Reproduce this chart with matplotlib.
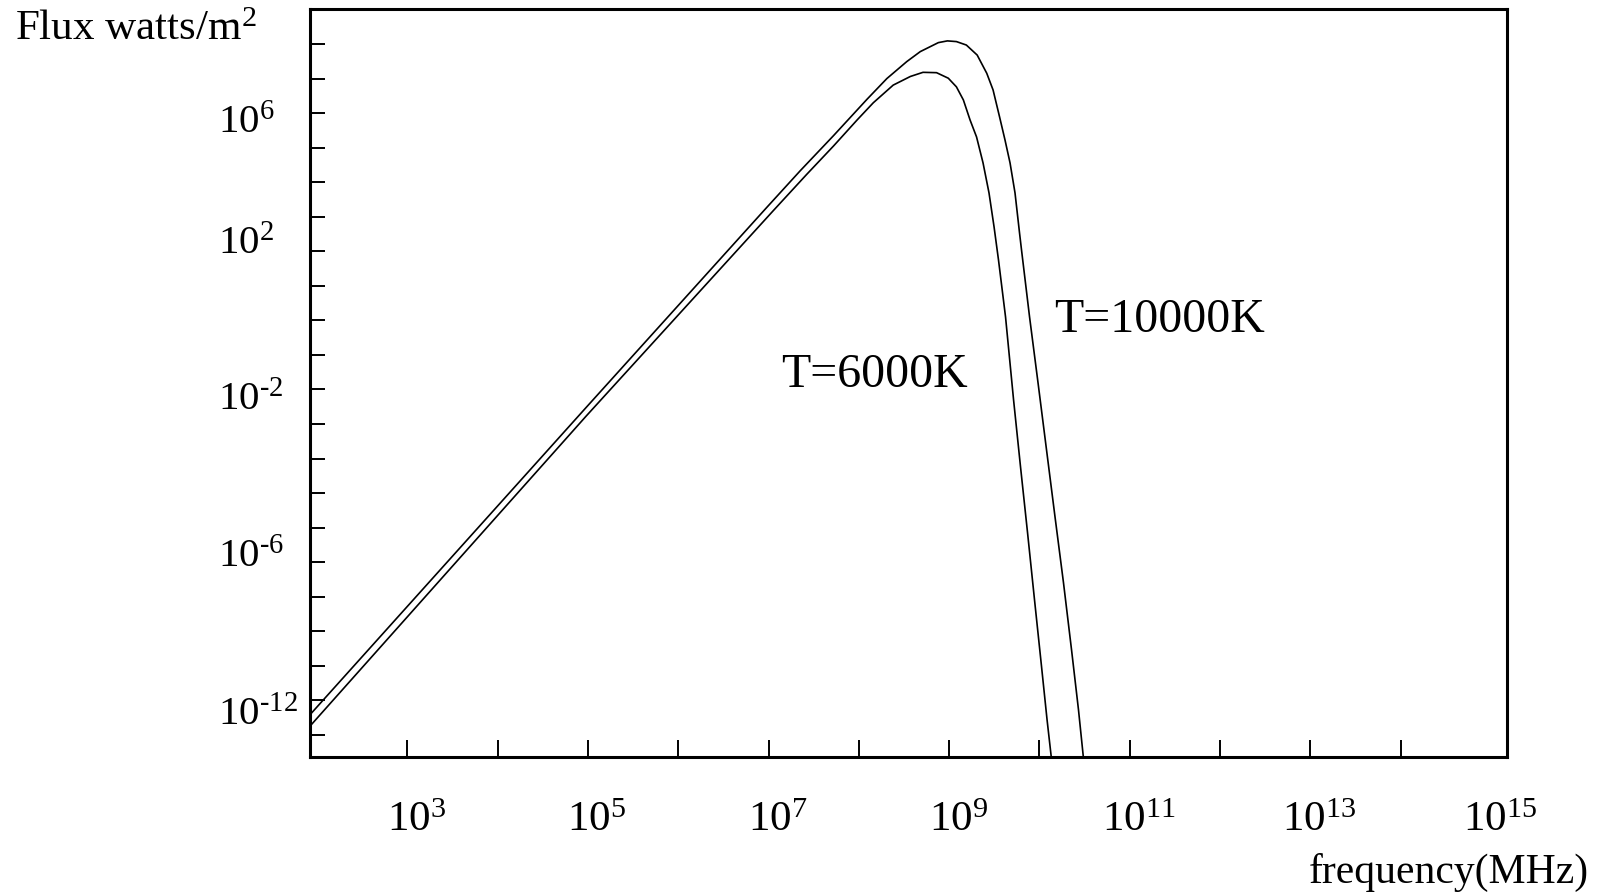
import matplotlib
matplotlib.use("Agg")
import matplotlib.pyplot as plt
import matplotlib.transforms as mtransforms
import numpy as np
from matplotlib.ticker import NullFormatter

# curves, as log10(frequency / MHz) and log10(flux)
LOGF_10000 = [1.92, 4.98, 6.98, 7.35, 7.72, 8.09, 8.31, 8.53, 8.68,
              8.88, 8.98, 9.08, 9.19, 9.31, 9.416, 9.486, 9.558, 9.618, 9.674,
              9.729, 9.779, 9.801, 9.890, 9.984, 10.078, 10.172, 10.266, 10.355,
              10.432, 10.488]
LOGS_10000 = [-11.42, -2.52, 3.27, 4.33, 5.35, 6.40, 7.00, 7.49, 7.78,
              8.04, 8.09, 8.07, 7.97, 7.68, 7.153, 6.670, 5.889, 5.223, 4.557,
              3.689, 2.531, 2.039, 0.100, -1.810, -3.750, -5.689, -7.599, -9.538,
              -11.275, -12.70]

LOGF_6000 = [1.92, 4.98, 7.05, 7.42, 7.72, 7.98, 8.16, 8.38, 8.57,
             8.71, 8.86, 8.99, 9.08, 9.157, 9.231, 9.303, 9.375, 9.441, 9.497,
             9.546, 9.624, 9.713, 9.790, 9.868, 9.945, 10.023, 10.084, 10.133]
LOGS_6000 = [-11.75, -2.77, 3.17, 4.22, 5.05, 5.80, 6.30, 6.81, 7.06,
             7.18, 7.17, 7.01, 6.76, 6.381, 5.802, 5.310, 4.557, 3.689, 2.705,
             1.750, 0.100, -2.302, -4.242, -6.152, -8.091, -10.030, -11.564, -12.70]

X_LABEL_EXP = [3, 5, 7, 9, 11, 13, 15]
X_MINOR_EXP = [4, 6, 8, 10, 12, 14]
Y_LABEL_TEXT = ["6", "2", "\u20102", "\u20106", "\u201012"]
Y_LABEL_AT = [5.83, 2.33, -2.19, -6.73, -11.30]   # where the labels sit in the picture
Y_DECADES = list(range(-12, 10))

plt.rcParams["font.family"] = "Liberation Serif"
plt.rcParams["mathtext.fontset"] = "custom"
plt.rcParams["mathtext.rm"] = "Liberation Serif"
plt.rcParams["mathtext.it"] = "Liberation Serif:italic"
plt.rcParams["mathtext.bf"] = "Liberation Serif:bold"

fig = plt.figure(figsize=(15.99, 8.92), dpi=100)
ax = fig.add_axes([0.1939, 0.1517, 0.7486, 0.8377])

ax.plot(np.power(10.0, LOGF_10000), np.power(10.0, LOGS_10000), color="black", lw=1.2)
ax.plot(np.power(10.0, LOGF_6000), np.power(10.0, LOGS_6000), color="black", lw=1.2)

ax.set_xscale("log")
ax.set_yscale("log")
ax.set_xlim(10 ** 1.922, 10 ** 15.178)
ax.set_ylim(10 ** -12.63, 10 ** 9)

ax.set_xticks([10.0 ** e for e in X_LABEL_EXP],
              labels=[f"$10^{{{e}}}$" for e in X_LABEL_EXP])
ax.set_xticks([10.0 ** e for e in X_MINOR_EXP], minor=True)
ax.set_yticks([10.0 ** e for e in Y_LABEL_AT],
              labels=[f"$10^{{{t}}}$" for t in Y_LABEL_TEXT])
ax.set_yticks([10.0 ** e for e in Y_DECADES], minor=True)
ax.xaxis.set_minor_formatter(NullFormatter())
ax.yaxis.set_minor_formatter(NullFormatter())

ax.tick_params(axis="x", which="both", direction="in", length=12, width=1.4,
               pad=32, labelsize=31)
ax.tick_params(axis="y", which="minor", direction="in", length=11, width=1.4)
ax.tick_params(axis="y", which="major", direction="in", length=0, pad=66,
               labelsize=29.5)
for lab in ax.get_yticklabels():
    lab.set_horizontalalignment("left")
shift = mtransforms.ScaledTranslation(0.09, 0, fig.dpi_scale_trans)
for lab in ax.get_xticklabels():
    lab.set_transform(lab.get_transform() + shift)
ax.xaxis.get_major_ticks()[-1].tick1line.set_visible(False)

for sp in ax.spines.values():
    sp.set_linewidth(2.2)

ax.text(10 ** 10.16, 10 ** 0.0, "T=10000K", fontsize=34.5, ha="left", va="center")
ax.text(10 ** 7.14, 10 ** -1.58, "T=6000K", fontsize=34.5, ha="left", va="center")

fig.text(0.0095, 0.967, "Flux watts/m$^{2}$", fontsize=31, ha="left", va="center")
fig.text(0.9937, 0.0224, "frequency(MHz)", fontsize=30, ha="right", va="center")

fig.savefig("out.png", dpi=100)
